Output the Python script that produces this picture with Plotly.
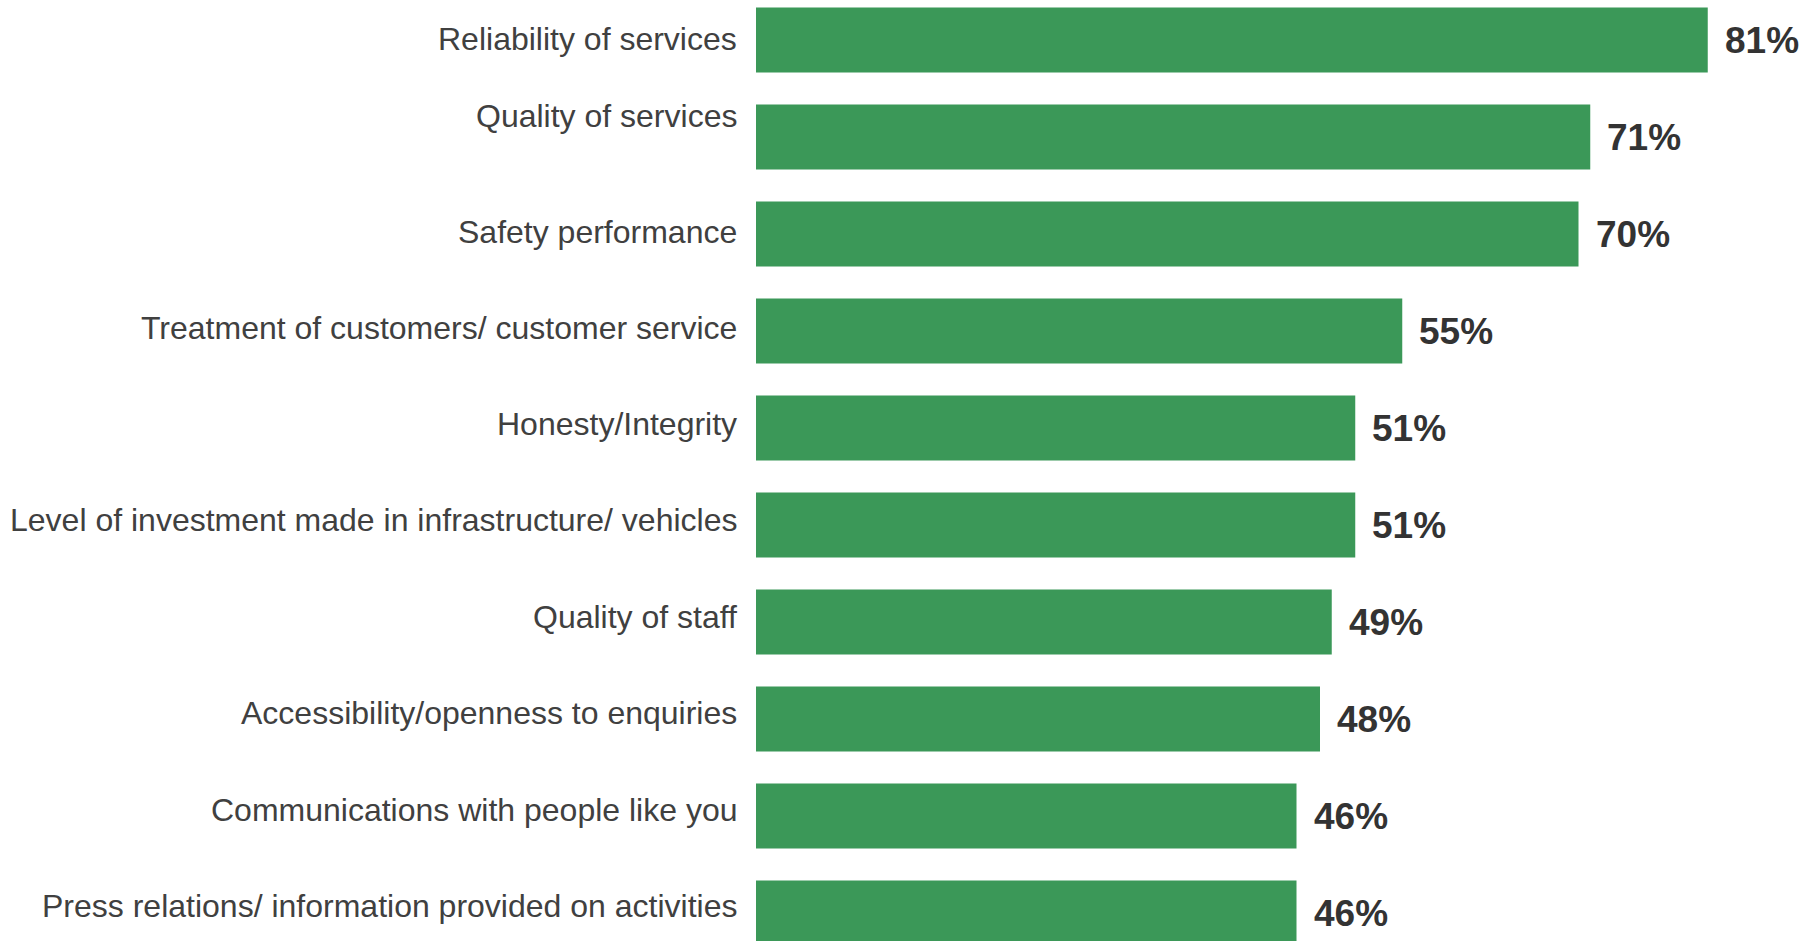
import plotly.graph_objects as go

# Survey results: share rating each attribute positively
categories = [
    "Reliability of services",
    "Quality of services",
    "Safety performance",
    "Treatment of customers/ customer service",
    "Honesty/Integrity",
    "Level of investment made in infrastructure/ vehicles",
    "Quality of staff",
    "Accessibility/openness to enquiries",
    "Communications with people like you",
    "Press relations/ information provided on activities",
]
values = [81, 71, 70, 55, 51, 51, 49, 48, 46, 46]

# small vertical nudges (px) for the category captions
label_lift = [1, 21, 2, 3, 4, 5, 5, 6, 6, 7]

BAR_GREEN = "#3B9858"
LABEL_GREY = "#404040"
VALUE_GREY = "#333333"

fig = go.Figure(
    go.Bar(
        x=values,
        y=categories,
        orientation="h",
        marker=dict(color=BAR_GREEN, line=dict(width=0)),
        width=0.67,
        hoverinfo="skip",
    )
)

annotations = []
for cat, val, lift in zip(categories, values, label_lift):
    # category caption to the left of the bar
    annotations.append(dict(
        x=0, y=cat, xref="x", yref="y",
        text=cat, showarrow=False,
        xanchor="right", yanchor="middle",
        xshift=-17, yshift=lift,
        font=dict(family="Liberation Sans, Arial, sans-serif", size=32, color=LABEL_GREY),
    ))
    # value label just past the bar end
    annotations.append(dict(
        x=val, y=cat, xref="x", yref="y",
        text=f"{val}%", showarrow=False,
        xanchor="left", yanchor="middle",
        xshift=15, yshift=-1,
        font=dict(family="Liberation Sans, Arial, sans-serif", size=37, color=VALUE_GREY, weight="bold"),
    ))

px_per_pct = 11.75
zero_px = 756
fig.update_layout(
    width=1819,
    height=941,
    margin=dict(l=0, r=0, t=0, b=0),
    paper_bgcolor="white",
    plot_bgcolor="white",
    showlegend=False,
    annotations=annotations,
    xaxis=dict(
        range=[-zero_px / px_per_pct, (1819 - zero_px) / px_per_pct],
        visible=False, showgrid=False, zeroline=False,
    ),
    yaxis=dict(
        type="category",
        categoryorder="array",
        categoryarray=categories,
        range=[9.289, -0.412],
        visible=False, showgrid=False, zeroline=False,
    ),
)

fig.write_html("out.html", config={"displayModeBar": False})
